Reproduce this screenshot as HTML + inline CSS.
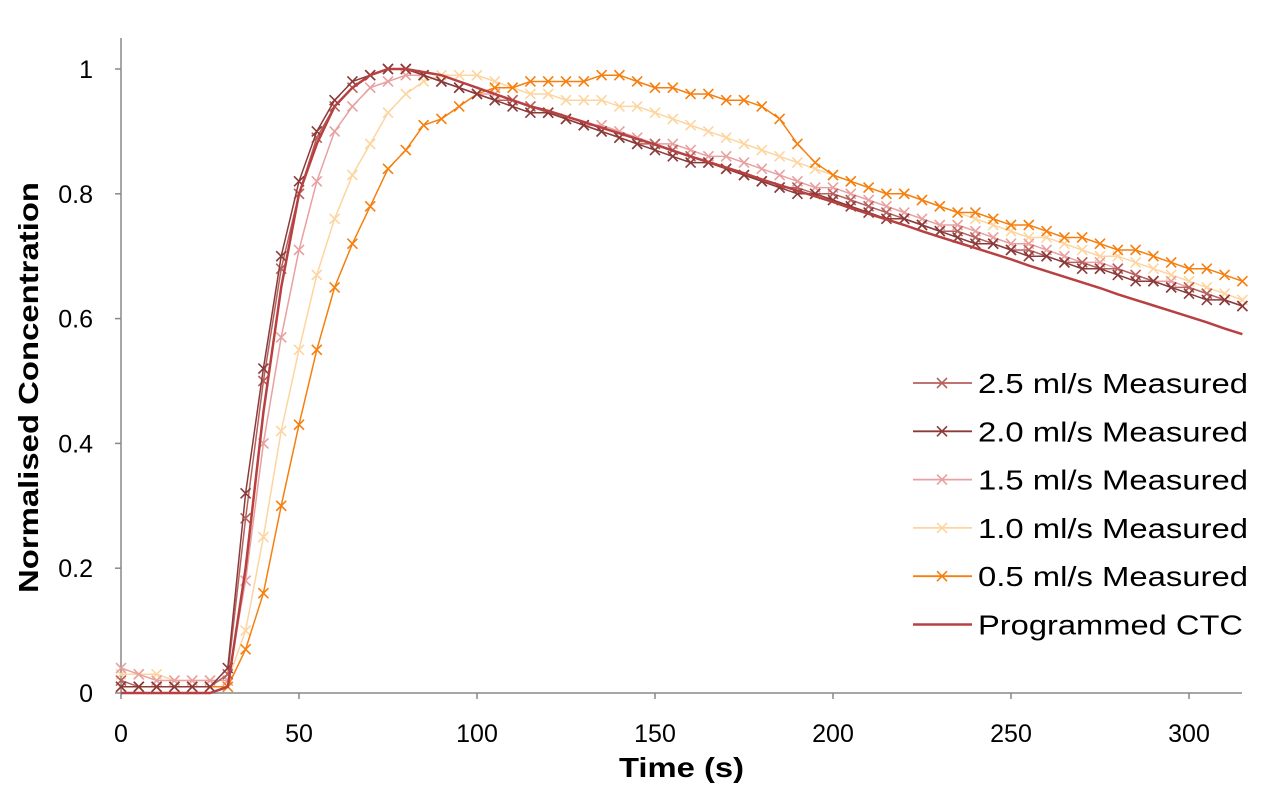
<!DOCTYPE html>
<html><head><meta charset="utf-8"><style>
body{margin:0;background:#fff;}
svg text{font-family:"Liberation Sans",sans-serif;}
</style></head><body>
<svg id="chart" width="1264" height="788" xmlns="http://www.w3.org/2000/svg"></svg>
<script>
const times=[0,5,10,15,20,25,30,35,40,45,50,55,60,65,70,75,80,85,90,95,100,105,110,115,120,125,130,135,140,145,150,155,160,165,170,175,180,185,190,195,200,205,210,215,220,225,230,235,240,245,250,255,260,265,270,275,280,285,290,295,300,305,310,315];
const s25=[.02,.01,.01,.01,.01,.01,.03,.28,.5,.68,.8,.89,.94,.97,.99,1,1,.99,.98,.97,.96,.95,.95,.94,.93,.92,.91,.9,.89,.88,.88,.87,.86,.85,.84,.83,.82,.81,.81,.8,.8,.79,.78,.77,.76,.75,.74,.74,.73,.72,.71,.71,.7,.69,.69,.68,.68,.67,.66,.65,.65,.64,.63,.62];
const s20=[.01,.01,.01,.01,.01,.01,.04,.32,.52,.7,.82,.9,.95,.98,.99,1,1,.99,.98,.97,.96,.95,.94,.93,.93,.92,.91,.9,.89,.88,.87,.86,.85,.85,.84,.83,.82,.81,.8,.8,.79,.78,.77,.76,.76,.75,.74,.73,.72,.72,.71,.7,.7,.69,.68,.68,.67,.66,.66,.65,.64,.63,.63,.62];
const s15=[.04,.03,.02,.02,.02,.02,.02,.18,.4,.57,.71,.82,.9,.94,.97,.98,.99,.99,.98,.97,.96,.96,.95,.94,.93,.92,.91,.91,.9,.89,.88,.88,.87,.86,.86,.85,.84,.83,.82,.81,.81,.8,.79,.78,.77,.76,.75,.75,.74,.73,.72,.72,.71,.7,.69,.69,.68,.67,.66,.66,.65,.64,.63,.62];
const s10=[.03,.03,.03,.02,.02,.02,.02,.1,.25,.42,.55,.67,.76,.83,.88,.93,.96,.98,.99,.99,.99,.98,.97,.96,.96,.95,.95,.95,.94,.94,.93,.92,.91,.9,.89,.88,.87,.86,.85,.84,.83,.82,.81,.8,.8,.79,.78,.77,.76,.75,.74,.73,.73,.72,.71,.7,.7,.69,.68,.67,.66,.65,.64,.63];
const s05=[.01,.01,.01,.01,.01,.01,.01,.07,.16,.3,.43,.55,.65,.72,.78,.84,.87,.91,.92,.94,.96,.97,.97,.98,.98,.98,.98,.99,.99,.98,.97,.97,.96,.96,.95,.95,.94,.92,.88,.85,.83,.82,.81,.8,.8,.79,.78,.77,.77,.76,.75,.75,.74,.73,.73,.72,.71,.71,.7,.69,.68,.68,.67,.66];
const ctc=[0,0,0,0,0,0,.01,.2,.45,.65,.8,.88,.94,.97,.99,1,1,.995,.99,.98,.97,.96,.95,.94,.933,.924,.915,.906,.897,.888,.879,.869,.86,.851,.842,.833,.823,.814,.805,.796,.787,.777,.768,.759,.75,.74,.731,.722,.713,.704,.695,.685,.676,.667,.658,.649,.639,.63,.621,.612,.603,.594,.584,.575];
const xTicks=[0,50,100,150,200,250,300];
const yTicks=[0,0.2,0.4,0.6,0.8,1];
const yTickLabels=["0","0.2","0.4","0.6","0.8","1"];
const seriesNames=["2.5 ml/s Measured","2.0 ml/s Measured","1.5 ml/s Measured","1.0 ml/s Measured","0.5 ml/s Measured","Programmed CTC"];

const X=v=>121+v*3.56, Y=v=>693-v*624;
const NS="http://www.w3.org/2000/svg";
const svg=document.getElementById('chart');
function el(tag,attrs,parent){const e=document.createElementNS(NS,tag);for(const k in attrs)e.setAttribute(k,attrs[k]);(parent||svg).appendChild(e);return e;}

const axes=el('g',{});


el('line',{x1:121,y1:38,x2:121,y2:693,stroke:'#888','stroke-width':1.5},axes);
el('line',{x1:121,y1:693,x2:1242,y2:693,stroke:'#888','stroke-width':1.5},axes);
yTicks.forEach((v,i)=>{
  el('line',{x1:115,y1:Y(v),x2:121,y2:Y(v),stroke:'#888','stroke-width':1.5},axes);
  const t=el('text',{x:93,y:Y(v)+9,'text-anchor':'end','font-size':25,fill:'#000'},axes);
  
  
  t.textContent=yTickLabels[i];
});
xTicks.forEach(v=>{
  el('line',{x1:X(v),y1:693,x2:X(v),y2:699,stroke:'#888','stroke-width':1.5},axes);
  const t=el('text',{x:X(v),y:742,'text-anchor':'middle','font-size':25,fill:'#000'},axes);
  
  
  t.textContent=v;
});
const xt=el('text',{x:619,y:777,'font-size':28,'font-weight':'bold',textLength:125,lengthAdjust:'spacingAndGlyphs'});


xt.textContent='Time (s)';
const yt=el('text',{x:0,y:0,'font-size':28,'font-weight':'bold',textLength:411,lengthAdjust:'spacingAndGlyphs',transform:'translate(38,593) rotate(-90)'});


yt.textContent='Normalised Concentration';

const colors=['#b5615e','#8b3a3a','#e8a0a0','#fdd5a0','#f57f0f','#b84040'];
const data=[s25,s20,s15,s10,s05,ctc];
const order=[3,2,4,0,1,5];
function cross(g,x,y,c){el('path',{d:`M${x-5} ${y-5}L${x+5} ${y+5}M${x-5} ${y+5}L${x+5} ${y-5}`,stroke:c,'stroke-width':1.6,fill:'none'},g);}
order.forEach(si=>{
  const g=el('g',{});
  
  
  const arr=data[si];
  const n=Math.min(arr.length,times.length);
  let d='';
  for(let i=0;i<n;i++)d+=(i?'L':'M')+X(times[i]).toFixed(1)+' '+Y(arr[i]).toFixed(1);
  el('path',{d:d,stroke:colors[si],'stroke-width':si==5?2.5:1.5,fill:'none'},g);
  if(si!==5)for(let i=0;i<n;i++)cross(g,X(times[i]),Y(arr[i]),colors[si]);
});

const lg=el('g',{});


const lens=[270,270,270,270,270,265];
seriesNames.forEach((nm,i)=>{
  const y=383+i*48.3;
  const e=el('g',{},lg);
  
  
  el('line',{x1:913,y1:y,x2:972,y2:y,stroke:colors[i],'stroke-width':i==5?2.5:1.8},e);
  if(i!==5)cross(e,942,y,colors[i]);
  const t=el('text',{x:978,y:y+10,'font-size':28,fill:'#000',textLength:lens[i],lengthAdjust:'spacingAndGlyphs'},e);
  t.textContent=nm;
});
</script>
</body></html>
